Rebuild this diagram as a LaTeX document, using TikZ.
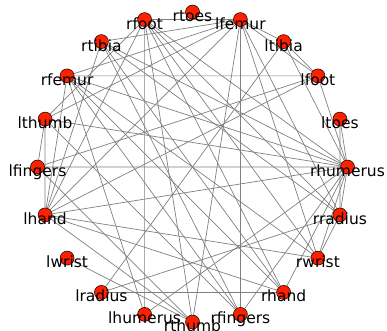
\documentclass[tikz,border=0pt]{standalone}
\usepackage{fontspec}
\setmainfont{DejaVu Sans}
\definecolor{vred}{RGB}{255,32,0}
\definecolor{edgeg}{RGB}{128,128,128}
\pgfdeclarelayer{bg}
\pgfsetlayers{bg,main}

\begin{document}
\begin{tikzpicture}[
  x=1pt, y=1pt,
  vtx/.style={circle, draw=black, line width=0.5pt, fill=vred,
              minimum size=14pt, inner sep=0pt},
  lbl/.style={font=\fontsize{15.5}{18}\selectfont, inner sep=0pt, anchor=base},
  link/.style={draw=edgeg, line width=0.7pt},
]
\useasboundingbox (-192.5,-163) rectangle (194.5,167);

% ---------- vertices on the ring ----------
\node[vtx] (rhumerus) at (0:155)   {};
\node[vtx] (ltoes)    at (18:155)  {};
\node[vtx] (lfoot)    at (36:155)  {};
\node[vtx] (ltibia)   at (54:155)  {};
\node[vtx] (lfemur)   at (72:155)  {};
\node[vtx] (rtoes)    at (90:155)  {};
\node[vtx] (rfoot)    at (108:155) {};
\node[vtx] (rtibia)   at (126:155) {};
\node[vtx] (rfemur)   at (144:155) {};
\node[vtx] (lthumb)   at (162:155) {};
\node[vtx] (lfingers) at (180:155) {};
\node[vtx] (lhand)    at (198:155) {};
\node[vtx] (lwrist)   at (216:155) {};
\node[vtx] (lradius)  at (234:155) {};
\node[vtx] (lhumerus) at (252:155) {};
\node[vtx] (rthumb)   at (270:155) {};
\node[vtx] (rfingers) at (288:155) {};
\node[vtx] (rhand)    at (306:155) {};
\node[vtx] (rwrist)   at (324:155) {};
\node[vtx] (rradius)  at (342:155) {};

% ---------- names over the vertices ----------
\node[lbl] (t-rhumerus) at ([yshift=-9.5pt]rhumerus.center) {rhumerus};
\node[lbl] (t-ltoes)    at ([yshift=-9.5pt]ltoes.center)    {ltoes};
\node[lbl] (t-lfoot)    at ([yshift=-9.5pt]lfoot.center)    {lfoot};
\node[lbl] (t-ltibia)   at ([yshift=-9.5pt]ltibia.center)   {ltibia};
\node[lbl] (t-lfemur)   at ([yshift=-9.5pt]lfemur.center)   {lfemur};
\node[lbl] (t-rtoes)    at ([yshift=-9.5pt]rtoes.center)    {rtoes};
\node[lbl] (t-rfoot)    at ([yshift=-9.5pt]rfoot.center)    {rfoot};
\node[lbl] (t-rtibia)   at ([yshift=-9.5pt]rtibia.center)   {rtibia};
\node[lbl] (t-rfemur)   at ([yshift=-9.5pt]rfemur.center)   {rfemur};
\node[lbl] (t-lthumb)   at ([yshift=-9.5pt]lthumb.center)   {lthumb};
\node[lbl] (t-lfingers) at ([yshift=-9.5pt]lfingers.center) {lfingers};
\node[lbl] (t-lhand)    at ([yshift=-9.5pt]lhand.center)    {lhand};
\node[lbl] (t-lwrist)   at ([yshift=-9.5pt]lwrist.center)   {lwrist};
\node[lbl] (t-lradius)  at ([yshift=-9.5pt]lradius.center)  {lradius};
\node[lbl] (t-lhumerus) at ([yshift=-9.5pt]lhumerus.center) {lhumerus};
\node[lbl] (t-rthumb)   at ([yshift=-9.5pt]rthumb.center)   {rthumb};
\node[lbl] (t-rfingers) at ([yshift=-9.5pt]rfingers.center) {rfingers};
\node[lbl] (t-rhand)    at ([yshift=-9.5pt]rhand.center)    {rhand};
\node[lbl] (t-rwrist)   at ([yshift=-9.5pt]rwrist.center)   {rwrist};
\node[lbl] (t-rradius)  at ([yshift=-9.5pt]rradius.center)  {rradius};

% ---------- edges, kept under the vertices ----------
\begin{pgfonlayer}{bg}
\draw[link] (rhumerus) -- (ltoes)  (rhumerus) -- (lfoot)   (rhumerus) -- (ltibia)
            (rhumerus) -- (rfoot)  (rhumerus) -- (rtibia)  (rhumerus) -- (rfemur)
            (rhumerus) -- (lthumb) (rhumerus) -- (lfingers) (rhumerus) -- (lhand)
            (rhumerus) -- (lhumerus) (rhumerus) -- (rfingers) (rhumerus) -- (rhand)
            (rhumerus) -- (rradius) (rhumerus) -- (rwrist);
\draw[link] (lfemur) -- (rfoot)  (lfemur) -- (rtibia)  (lfemur) -- (rfemur)
            (lfemur) -- (lthumb) (lfemur) -- (lhand)   (lfemur) -- (ltibia)
            (lfemur) -- (lfoot)  (lfemur) -- (rthumb)  (lfemur) -- (rfingers)
            (lfemur) -- (rwrist) (lfemur) -- (rradius);
\draw[link] (rfoot) -- (lthumb) (rfoot) -- (lhand)  (rfoot) -- (rthumb)
            (rfoot) -- (rhand)  (rfoot) -- (rwrist) (rfoot) -- (rradius)
            (rfoot) -- (lhumerus);
\draw[link] (rtibia) -- (rfingers) (rtibia) -- (rhand) (rtibia) -- (rradius)
            (rtibia) -- (lhand);
\draw[link] (rfemur) -- (lfoot) (rfemur) -- (lhand)  (rfemur) -- (lhumerus)
            (rfemur) -- (rfingers) (rfemur) -- (rwrist) (rfemur) -- (rhand);
\draw[link] (ltibia) -- (lfoot) (ltibia) -- (lradius);
\draw[link] (lthumb) -- (lfingers) (lthumb) -- (lhand) (lthumb) -- (rfingers);
\draw[link] (lfingers) -- (lfoot) (lfingers) -- (rthumb);
\draw[link] (lhand) -- (rwrist) (lhand) -- (rhand) (lhand) -- (lfoot)
            (lhand) -- (rthumb);
\draw[link] (lwrist) -- (rthumb);
\draw[link] (lradius) -- (rhand) (lradius) -- (rradius);
\draw[link] (rradius) -- (rwrist) (rradius) -- (ltoes);
\end{pgfonlayer}

\end{tikzpicture}
\end{document}
